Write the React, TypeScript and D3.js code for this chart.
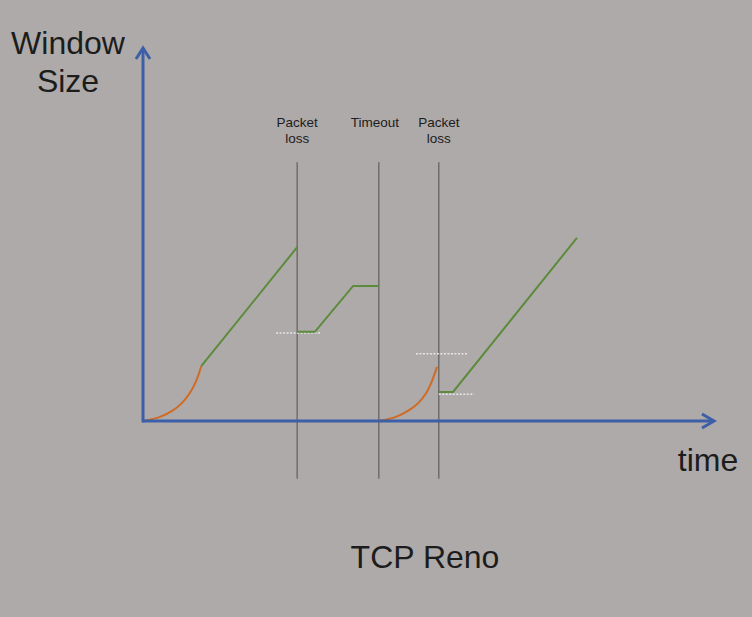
import React from "react";
import * as d3 from "d3";

const W = 752;
const H = 617;

// data in arbitrary units: time 0..100, window 0..100
const slowStart1: [number, number][] = [[0, 0], [3, 1.1], [5.1, 2.7], [6.8, 4.8], [8.2, 7.5], [9.3, 10.7], [10.2, 14.7]];
const congAvoid1: [number, number][] = [[10.2, 14.7], [27, 46.6]];
const fastRecovery1: [number, number][] = [[27, 23.9], [30.1, 23.9], [36.8, 36.2], [41.3, 36.2]];
const slowStart2: [number, number][] = [[41.3, 0], [44.3, 1.1], [46.4, 2.7], [48.2, 4.8], [49.6, 7.5], [50.6, 10.7], [51.5, 14.5]];
const congAvoid2: [number, number][] = [[51.8, 7.8], [54.3, 7.8], [76, 49.1]];
const thresholds: { x0: number; x1: number; y: number }[] = [
  { x0: 23.3, x1: 31, y: 23.6 },
  { x0: 47.8, x1: 56.9, y: 18 },
  { x0: 51.8, x1: 58, y: 7.2 },
];
const events: { t: number; label: string[] }[] = [
  { t: 27, label: ["Packet", "loss"] },
  { t: 41.3, label: ["Timeout"] },
  { t: 51.8, label: ["Packet", "loss"] },
];
const eventSpan: [number, number] = [-15.5, 69.4];

const x = d3.scaleLinear().domain([0, 100]).range([143, 714]);
const y = d3.scaleLinear().domain([0, 100]).range([421, 48]);

const curved = d3.line<[number, number]>().x((d) => x(d[0])).y((d) => y(d[1])).curve(d3.curveCatmullRom);
const straight = d3.line<[number, number]>().x((d) => x(d[0])).y((d) => y(d[1]));

const BLUE = "#3d5fa8";
const ORANGE = "#d06a24";
const GREEN = "#5b8b3b";
const TXT = "#1c1c1c";

export default function App() {
  const x0 = x(0), y0 = y(0), yTop = y(100), xEnd = x(100);
  return (
    <svg width={W} height={H} style={{ position: "fixed", left: 0, top: 0 }} fontFamily="Liberation Sans, Arial, sans-serif">
      <rect width={W} height={H} fill="#aeaaa9" />
      {events.map((e, i) => (
        <g key={i}>
          <line x1={x(e.t)} x2={x(e.t)} y1={y(eventSpan[1])} y2={y(eventSpan[0])} stroke="#6a6867" strokeWidth={1.4} />
          {e.label.map((l, j) => (
            <text key={j} x={x(e.t) + (e.label.length === 1 ? -4 : 0)} y={127 + j * 16} textAnchor="middle" fontSize={13.5} fill={TXT}>{l}</text>
          ))}
        </g>
      ))}
      {thresholds.map((t, i) => (
        <line key={i} x1={x(t.x0)} x2={x(t.x1)} y1={y(t.y)} y2={y(t.y)} stroke="#e6e6e6" strokeWidth={1.5} strokeDasharray="2,1.5" />
      ))}
      <path d={curved(slowStart1) || ""} fill="none" stroke={ORANGE} strokeWidth={2} />
      <path d={curved(slowStart2) || ""} fill="none" stroke={ORANGE} strokeWidth={2} />
      <path d={straight(congAvoid1) || ""} fill="none" stroke={GREEN} strokeWidth={2} />
      <path d={straight(fastRecovery1) || ""} fill="none" stroke={GREEN} strokeWidth={2} />
      <path d={straight(congAvoid2) || ""} fill="none" stroke={GREEN} strokeWidth={2} />
      <line x1={x0} x2={x0} y1={y0 + 1.5} y2={yTop} stroke={BLUE} strokeWidth={3} />
      <line x1={x0} x2={xEnd} y1={y0} y2={y0} stroke={BLUE} strokeWidth={3} />
      <polyline points={`${x0 - 7},${yTop + 11} ${x0},${yTop} ${x0 + 7},${yTop + 11}`} fill="none" stroke={BLUE} strokeWidth={3} strokeLinejoin="miter" />
      <polyline points={`${xEnd - 12},${y0 - 7} ${xEnd},${y0} ${xEnd - 12},${y0 + 7}`} fill="none" stroke={BLUE} strokeWidth={3} strokeLinejoin="miter" />
      <text x={68} y={54} textAnchor="middle" fontSize={32} fill={TXT}>Window</text>
      <text x={68} y={92} textAnchor="middle" fontSize={32} fill={TXT}>Size</text>
      <text x={708} y={471} textAnchor="middle" fontSize={32} fill={TXT}>time</text>
      <text x={425} y={568} textAnchor="middle" fontSize={32} fill={TXT}>TCP Reno</text>
    </svg>
  );
}
